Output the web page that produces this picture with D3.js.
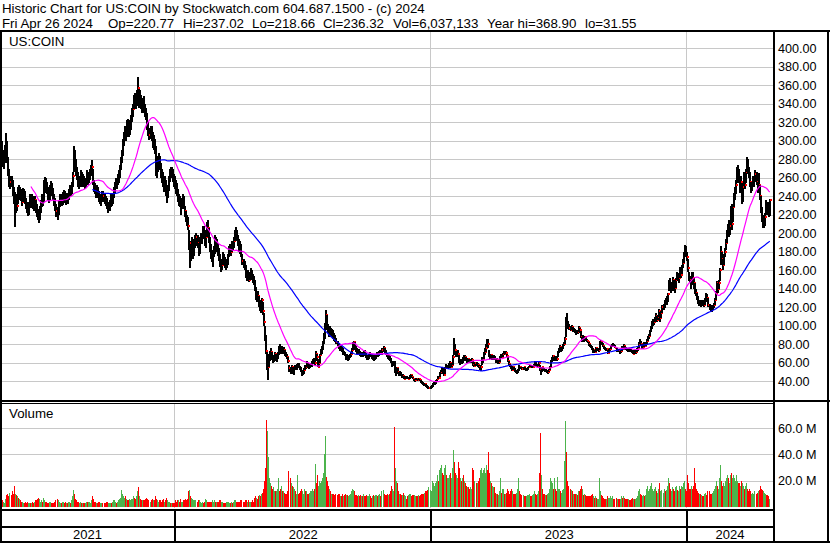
<!DOCTYPE html>
<html><head><meta charset="utf-8">
<script src="https://cdn.jsdelivr.net/npm/d3@7"></script>
<style>
body{margin:0;background:#fff}
svg{display:block}
text{font-family:"Liberation Sans",Arial,sans-serif;fill:#000}
</style></head>
<body><svg id="c" width="830" height="543"></svg>
<script>
// ---------------- DATA (daily, first bar = 2021-04-30) ----------------
const headerTitle = "Historic Chart for US:COIN by Stockwatch.com 604.687.1500 - (c) 2024";
const headerFields = ["Fri Apr 26 2024","Op=220.77","Hi=237.02","Lo=218.66","Cl=236.32","Vol=6,037,133","Year hi=368.90","lo=31.55"];
const symbolLabel = "US:COIN";
const volumeLabel = "Volume";
const yearLabels = ["2021","2022","2023","2024"];
const yearStartIdx = [0,171,422,672];
const priceTicks = [40,60,80,100,120,140,160,180,200,220,240,260,280,300,320,340,360,380,400];
const volumeTicks = [20,40,60];
const maShort = 30, maLong = 90;

const closes = [
294,
287,276,282,290,298,280,268,255,256,254,245,236,226,236,230,246,240,246,238,234,
240,244,236,230,228,224,229,236,234,238,232,230,236,228,222,218,216,224,232,238,236,253,
256,250,248,240,238,246,250,246,240,234,230,224,221,232,236,238,234,240,244,238,236,
240,238,245,248,246,252,262,282,276,270,262,256,252,258,262,256,260,255,252,256,262,256,
262,266,270,272,256,250,246,244,248,242,240,236,238,242,240,236,234,230,226,228,232,
238,235,240,245,252,256,254,258,262,270,278,286,298,305,310,306,318,316,312,318,322,
330,334,345,342,340,348,357,342,348,340,336,340,338,332,326,316,310,306,312,308,296,
298,292,276,270,278,282,272,266,262,256,250,256,248,240,248,258,266,264,268,262,256,252,
250,246,236,236,232,230,234,238,228,224,216,212,208,186,190,176,180,182,190,192,
196,190,182,192,194,196,204,200,190,196,208,206,194,184,178,172,178,182,192,
186,188,178,174,168,162,166,176,170,166,164,168,176,182,184,180,188,186,192,200,203,196,190,
188,186,176,170,166,164,156,152,156,150,154,158,154,150,148,140,130,134,132,124,
124,120,128,116,104,88,73,54,55,66,68,72,65,64,66,70,64,66,70,76,75,
72,76,72,74,70,68,66,62,54,52,55,51,53,57,55,56,59,56,53,51,48,
50,52,56,55,58,56,55,57,58,60,62,62,60,70,66,56,60,68,72,76,
82,88,98,112,100,95,92,96,92,94,90,88,86,82,80,77,75,76,74,70,71,68,65,
66,64,66,68,70,74,78,82,76,74,72,70,72,70,68,70,68,72,70,66,64,
66,68,70,68,66,66,64,66,68,70,68,70,72,70,74,76,72,70,68,66,66,
64,61,58,60,60,51,52,54,50,48,49,47,46,46,43,44,45,44,43,44,46,
47,45,43,41,41,43,42,41,42,41,39,38,37,36,37,35,34,33,33,34,35,
37,38,38,40,42,45,44,49,50,53,49,47,54,57,55,55,58,60,55,58,
66,78,74,68,70,70,62,60,62,61,65,64,66,63,62,64,62,61,63,
63,58,57,60,58,58,55,54,56,64,64,70,72,76,82,80,68,66,68,64,65,66,64,
62,63,60,61,66,68,66,70,71,70,71,67,62,59,57,54,52,56,53,
51,50,50,52,56,55,54,53,55,53,52,53,55,56,57,56,55,56,57,60,58,57,
57,60,52,51,55,53,52,51,51,50,50,52,56,62,64,67,63,66,65,64,72,
75,77,74,76,79,80,86,106,104,100,98,96,99,95,96,94,92,94,93,98,
95,88,86,86,85,88,85,84,82,80,78,77,75,74,74,72,76,74,74,74,82,83,80,
78,76,75,74,75,71,74,75,78,78,79,78,76,73,74,73,72,73,77,75,
78,76,75,74,73,75,74,73,72,70,73,72,72,74,76,80,83,80,76,77,80,78,
80,84,87,89,94,98,103,104,104,108,111,106,110,116,108,114,120,120,127,124,128,
134,148,145,140,144,150,142,141,150,156,150,152,162,155,164,168,178,184,178,174,
162,152,150,145,156,152,146,138,136,130,127,124,125,122,126,124,122,128,132,130,122,
120,119,118,121,122,128,136,146,140,146,160,180,172,166,176,180,190,200,206,202,
208,226,210,228,240,244,252,266,268,260,248,256,236,250,262,252,266,278,270,265,
256,250,252,254,258,264,256,248,252,240,226,218,210,214,218,232,228,226,221,236.32
];

const highs = [
305,
300,290,288,296,308,300,282,270,262,262,258,250,245,242,240,250,252,250,248,242,
249,248,246,238,234,233,234,243,240,243,240,238,240,236,232,226,224,230,236,243,242,258,
261,260,256,250,244,252,257,254,249,243,238,232,228,236,242,243,242,245,247,246,242,
244,243,248,252,252,256,266,294,290,280,272,266,262,262,268,266,264,262,258,260,268,266,
266,270,274,279,270,258,254,250,252,250,246,242,242,246,246,244,240,238,234,232,236,
242,240,244,250,256,260,260,264,268,274,282,290,302,310,316,314,322,324,320,322,328,
336,340,350,352,348,355,369,356,355,350,345,346,348,340,336,330,320,314,316,316,310,
306,302,294,280,284,287,284,276,270,266,258,262,258,250,252,262,270,272,272,270,264,262,
258,254,248,242,240,236,238,242,240,230,224,220,218,204,192,188,196,192,194,198,
200,198,190,196,200,200,208,208,204,200,212,214,206,196,188,182,180,186,198,
196,194,190,184,178,170,172,180,178,174,170,172,178,186,188,188,192,192,196,204,207,204,198,
194,192,188,178,172,170,166,158,160,158,158,162,160,156,154,150,142,138,138,132,
128,126,130,126,114,100,90,72,62,70,73,76,72,68,68,72,70,68,72,78,80,
78,78,77,77,74,72,70,66,58,56,58,56,56,58,58,59,60,60,57,55,52,
52,54,58,58,62,60,58,59,60,62,64,65,64,73,70,64,62,70,75,78,
84,92,103,117,112,102,98,100,98,97,95,92,90,87,84,81,80,78,77,76,73,72,69,
69,67,68,70,72,76,82,84,82,78,76,73,75,73,72,72,71,74,74,71,68,
68,70,72,71,69,68,67,68,70,72,72,73,74,73,76,78,76,74,71,69,68,
67,65,62,62,62,62,55,56,54,50,51,50,48,48,46,45,46,46,45,45,47,
48,47,45,43,42,44,44,43,44,43,41,40,39,38,38,37,36,35,34,35,36,
38,39,39,41,43,46,46,50,52,56,54,50,55,59,58,57,60,62,60,59,
68,87,80,73,72,74,68,63,64,63,66,68,68,66,64,65,64,63,64,
65,62,58,61,61,60,58,56,58,66,66,72,76,80,86,86,74,70,70,68,67,68,67,
64,65,63,62,67,70,69,71,73,72,73,70,66,62,59,57,55,57,56,
54,52,52,53,58,57,56,55,56,55,54,54,56,57,58,58,57,58,59,62,61,59,
59,61,58,52,56,55,54,53,53,52,51,53,57,63,66,68,66,67,67,66,73,
76,79,77,77,80,82,88,110,114,105,102,100,101,99,98,97,95,96,96,100,
98,94,88,90,87,89,88,86,84,82,80,79,78,76,75,74,77,76,75,76,84,85,83,
81,78,77,76,76,74,75,76,79,80,81,80,79,76,75,75,73,74,78,78,
80,78,77,76,75,76,76,75,74,73,74,74,73,76,77,82,86,84,80,78,82,81,
82,86,89,91,96,100,105,107,107,110,114,111,112,118,115,116,122,124,128,130,132,
136,150,152,147,146,153,150,145,152,158,157,154,164,164,166,172,180,187,186,180,
172,158,154,150,158,158,152,146,140,136,132,128,128,126,128,128,126,130,136,134,130,
124,122,121,123,125,130,138,148,146,149,162,186,180,172,178,184,194,204,210,214,
212,230,232,232,244,250,258,272,274,270,262,262,252,254,266,264,270,283,280,272,
266,256,256,262,262,268,266,256,265,252,240,228,220,218,222,236,234,234,228,237.02
];

const lows = [
285,
280,272,270,276,285,276,262,250,248,250,240,232,207,222,224,232,236,238,235,230,
234,236,232,226,222,219,220,227,227,230,226,224,227,222,218,214,211,214,222,228,230,234,
246,244,242,236,233,236,242,240,236,230,224,218,214,220,228,230,229,231,234,233,231,
233,232,236,240,240,242,250,266,268,262,258,250,248,250,254,250,252,250,248,250,254,252,
254,258,262,264,252,245,242,238,240,238,234,232,230,234,234,232,230,226,222,224,224,
228,230,232,238,244,248,248,252,254,260,268,276,284,294,300,300,304,308,304,306,312,
320,326,334,336,334,338,345,336,338,334,330,332,330,326,322,312,305,301,302,300,292,
290,286,262,260,266,272,268,260,254,250,245,248,240,233,238,246,256,260,260,256,250,248,
242,240,234,230,228,220,226,230,226,218,212,208,204,182,162,170,174,172,176,184,
186,184,176,178,188,188,194,196,186,184,196,200,190,180,172,169,164,174,178,
182,180,176,170,164,158,160,166,166,162,160,162,166,174,178,176,180,182,184,192,196,192,186,
180,178,174,166,162,160,152,148,150,147,149,150,150,146,144,138,128,126,128,120,
116,114,118,112,100,84,70,52,41,55,62,66,63,60,61,64,62,61,64,68,72,
70,70,70,70,67,66,64,60,50,48,50,48,47,52,52,52,54,54,52,50,46,
47,48,52,53,55,54,53,54,55,56,59,59,58,62,63,55,56,60,68,70,
74,80,86,96,96,92,88,90,88,90,86,84,83,80,78,75,73,73,72,68,68,67,63,
63,62,63,65,66,69,74,77,74,72,70,68,69,67,66,67,66,67,68,65,63,
63,64,66,66,64,63,62,63,64,67,66,67,69,68,69,72,70,68,66,64,63,
62,60,56,57,58,49,46,48,48,46,47,46,44,44,42,42,43,43,42,42,43,
44,44,42,40,39,41,41,40,41,40,38,37,36,35,35,34,33,32,31.55,32,33,
34,36,36,37,40,42,43,45,48,50,48,46,48,54,54,53,54,57,54,55,
58,68,70,66,66,67,60,58,59,59,60,62,63,62,60,61,60,60,60,
61,57,55,57,57,56,54,52,51,58,60,64,68,72,78,76,66,64,64,63,63,64,63,
60,61,59,59,61,65,65,66,69,68,69,66,61,58,56,53,51,52,52,
50,49,48,49,51,54,53,52,52,52,51,51,52,54,55,55,54,54,55,57,57,56,
55,57,51,47,50,52,51,50,50,49,48,50,52,56,61,63,62,62,63,62,66,
71,74,72,73,75,78,80,88,102,97,95,94,95,93,93,92,90,91,91,93,
92,87,83,84,83,84,84,82,81,78,77,76,74,71,72,71,72,73,73,72,74,80,79,
77,75,74,73,73,70,71,73,75,77,77,77,76,72,72,72,70,71,73,74,
76,75,74,73,72,72,73,72,71,69,70,71,70,72,73,76,80,79,75,75,77,77,
78,80,84,86,89,93,97,100,101,104,107,104,106,110,104,108,114,117,119,122,123,
126,138,140,136,138,143,138,136,141,150,148,146,152,152,156,162,168,176,174,170,
158,148,146,140,144,148,140,134,132,128,124,121,122,120,121,122,120,122,127,126,120,
117,116,115,117,119,122,128,136,136,140,148,166,166,160,166,174,182,190,196,196,
198,212,204,212,228,236,242,254,258,254,244,246,232,234,252,248,254,266,264,260,
250,244,246,250,250,256,252,244,246,236,222,212,206,206,208,220,222,220,218,218.66
];

// volume in millions of shares
const volumes = [
6,
4,5,4,3,6,9,10,8,11,9,12,10,16,10,9,8,7,6,5,4,
4,3,3,4,3,4,3,3,3,3,4,3,4,5,5,6,7,6,4,5,4,7,
5,4,4,3,3,4,4,3,3,3,4,5,6,5,4,3,3,4,4,3,4,
3,3,4,4,3,5,8,13,10,6,5,4,4,3,4,3,3,3,3,3,4,4,
4,4,3,5,8,6,4,4,3,3,4,4,3,3,3,3,3,4,4,3,3,
3,3,4,5,5,4,3,4,5,6,7,13,10,8,7,8,6,5,5,6,5,
6,6,8,7,6,8,12,15,8,6,5,5,5,5,6,7,6,5,4,5,6,
5,5,8,6,5,4,5,5,4,5,6,4,5,7,5,4,4,3,3,3,3,3,
5,4,5,5,4,6,4,4,5,5,6,5,6,12,13,8,7,6,5,5,
5,4,5,5,4,3,4,3,4,6,5,4,4,4,4,4,5,4,5,
4,4,4,4,5,5,4,4,3,3,3,4,4,4,3,3,4,3,4,5,5,4,4,
4,4,5,5,4,4,5,5,4,5,4,4,4,5,4,7,8,7,6,8,
9,8,10,11,14,20,30,66,58,38,22,18,16,14,15,12,12,12,14,22,12,
14,16,12,12,11,10,10,12,27,22,18,16,15,14,12,10,24,10,11,12,14,
12,10,14,12,12,10,10,11,12,12,14,12,14,33,18,24,16,20,18,20,
22,26,40,54,23,20,16,14,12,10,10,10,9,10,9,10,10,8,8,10,8,9,10,
9,9,8,9,10,12,14,13,12,9,9,8,9,8,9,8,8,10,8,8,9,
8,8,10,8,7,8,9,8,9,9,8,9,10,8,12,13,10,9,9,10,9,
10,12,16,14,12,61,30,20,18,12,10,10,9,9,11,9,8,6,8,9,10,
10,8,9,9,9,8,8,8,9,8,9,10,10,10,11,12,12,13,15,13,12,
20,18,16,18,20,24,20,28,30,32,26,24,30,32,24,22,22,24,26,22,
30,43,34,26,24,22,34,30,22,20,22,24,20,18,16,15,15,14,15,
14,30,28,20,18,18,20,22,28,30,26,28,30,26,32,28,42,26,20,18,16,15,15,
11,10,10,9,12,22,11,14,14,10,10,11,14,12,10,12,14,12,10,
10,10,11,14,22,12,10,9,9,8,8,8,9,9,10,8,8,9,10,12,10,9,
10,12,26,56,24,14,10,10,9,9,10,11,14,22,20,18,14,22,14,12,23,
14,14,12,11,13,14,35,65,42,20,16,14,13,12,10,10,10,10,9,12,
12,14,16,14,9,10,9,8,8,8,8,8,9,10,8,7,8,7,6,6,22,12,9,
8,7,6,6,6,8,7,7,8,7,8,6,6,7,6,6,6,6,8,7,
8,7,6,6,6,6,5,5,6,7,6,6,6,7,8,12,14,10,9,8,9,8,
9,14,16,12,14,16,18,14,12,14,15,12,11,14,18,12,13,11,14,12,13,
16,22,18,14,12,15,14,12,15,16,13,12,16,14,16,15,18,20,14,12,
24,18,14,14,16,14,16,30,18,14,12,11,10,10,9,8,8,10,11,9,12,
12,10,10,11,12,14,16,20,16,14,22,32,20,16,18,16,20,22,24,22,
18,24,26,22,24,22,20,24,20,18,18,16,20,18,16,14,16,18,14,12,
14,12,10,11,10,12,10,11,12,13,16,14,13,12,11,10,9,9,8,6.04
];

// ---------------- CHART ----------------
const W = 830, H = 543;
const plotL = 2, plotR = 773;
const priceTop = 32, priceBot = 400;
const volTop = 403, volBot = 508;
const n = closes.length;

const svg = d3.select("#c");
svg.append("rect").attr("width", W).attr("height", H).attr("fill", "#fff");

const x = d3.scaleLinear().domain([0, n - 1]).range([0.3, 768.8]);
const y = d3.scaleLinear().domain([40, 400]).range([381.3, 48.3]);
const yv = d3.scaleLinear().domain([0, 60]).range([507, 428]);

const defs = svg.append("defs");
defs.append("clipPath").attr("id", "clipP").append("rect")
  .attr("x", plotL).attr("y", priceTop).attr("width", plotR - plotL).attr("height", priceBot - priceTop);
defs.append("clipPath").attr("id", "clipV").append("rect")
  .attr("x", plotL).attr("y", volTop).attr("width", plotR - plotL).attr("height", volBot - volTop);

const gridColor = "#c8c8c8";
const grid = svg.append("g").attr("shape-rendering", "crispEdges");
priceTicks.forEach(t => {
  const yy = Math.round(y(t)) + 0.5;
  grid.append("line").attr("x1", plotL).attr("x2", plotR).attr("y1", yy).attr("y2", yy)
    .attr("stroke", gridColor);
});
volumeTicks.forEach(t => {
  const yy = Math.round(yv(t)) + 0.5;
  grid.append("line").attr("x1", plotL).attr("x2", plotR).attr("y1", yy).attr("y2", yy)
    .attr("stroke", gridColor);
});
const yearX = yearStartIdx.slice(1).map(i => Math.floor(x(i)) - 0.5);
yearX.forEach(xx => {
  grid.append("line").attr("x1", xx).attr("x2", xx).attr("y1", priceTop).attr("y2", priceBot)
    .attr("stroke", gridColor);
  grid.append("line").attr("x1", xx).attr("x2", xx).attr("y1", volTop).attr("y2", volBot)
    .attr("stroke", gridColor);
});

// candles (black high-low bar + red close tick)
const gc = svg.append("g").attr("clip-path", "url(#clipP)").attr("shape-rendering", "crispEdges");
const days = d3.range(n);
const dayG = gc.selectAll("g").data(days).join("g");
dayG.append("rect")
  .attr("x", i => Math.round(x(i)))
  .attr("y", i => Math.round(y(highs[i])))
  .attr("width", 2)
  .attr("height", i => Math.max(1, Math.round(y(lows[i])) - Math.round(y(highs[i]))))
  .attr("fill", "#000");
dayG.append("rect")
  .attr("x", i => Math.round(x(i)) + 1)
  .attr("y", i => Math.round(y(closes[i])) - 1)
  .attr("width", 2).attr("height", 2)
  .attr("fill", "#ff0000");

// moving averages
function sma(arr, p) {
  return arr.map((v, i) => i < p - 1 ? null : d3.mean(arr.slice(i - p + 1, i + 1)));
}
const maS = sma(closes, maShort), maL = sma(closes, maLong);
const line = d3.line().defined(d => d[1] != null).x(d => x(d[0]) + 1).y(d => y(d[1]));
const gm = svg.append("g").attr("clip-path", "url(#clipP)");
gm.append("path").attr("d", line(maL.map((v, i) => [i, v]))).attr("fill", "none")
  .attr("stroke", "#0000ff").attr("stroke-width", 1.2);
gm.append("path").attr("d", line(maS.map((v, i) => [i, v]))).attr("fill", "none")
  .attr("stroke", "#ff00ff").attr("stroke-width", 1.2);

// volume bars
const gv = svg.append("g").attr("clip-path", "url(#clipV)").attr("shape-rendering", "crispEdges");
gv.selectAll("rect").data(days).join("rect")
  .attr("x", i => Math.round(x(i)))
  .attr("y", i => yv(volumes[i]))
  .attr("width", 1)
  .attr("height", i => yv(0) - yv(volumes[i]))
  .attr("fill", i => (i > 0 && closes[i] < closes[i - 1]) ? "#ff0000" : "#4cb44c");

// frame lines
const fr = svg.append("g").attr("shape-rendering", "crispEdges").attr("fill", "#000");
fr.append("rect").attr("x", 0).attr("y", 30).attr("width", W).attr("height", 2);        // under header
fr.append("rect").attr("x", 0).attr("y", 30).attr("width", 2).attr("height", H - 30);   // left
fr.append("rect").attr("x", 773).attr("y", 30).attr("width", 2).attr("height", H - 30); // axis
fr.append("rect").attr("x", 827).attr("y", 30).attr("width", 2).attr("height", H - 30); // right
fr.append("rect").attr("x", 0).attr("y", 400).attr("width", W).attr("height", 2);       // price/vol
fr.append("rect").attr("x", 0).attr("y", 403).attr("width", 773).attr("height", 1);
fr.append("rect").attr("x", 0).attr("y", 509).attr("width", 773).attr("height", 2);     // vol bottom
fr.append("rect").attr("x", 0).attr("y", 526).attr("width", 773).attr("height", 2);
fr.append("rect").attr("x", 0).attr("y", 541).attr("width", W).attr("height", 2);       // bottom
yearX.forEach(xx => {
  fr.append("rect").attr("x", Math.floor(xx)).attr("y", 511).attr("width", 1.5).attr("height", 30);
});

// axis labels
const fmtP = d3.format(".2f");
const ax = svg.append("g").style("font-size", "12.6px");
priceTicks.forEach(t => {
  ax.append("text").attr("x", 778).attr("y", y(t)).attr("dy", "0.36em").text(fmtP(t));
});
volumeTicks.forEach(t => {
  ax.append("text").attr("x", 778).attr("y", yv(t)).attr("dy", "0.36em").text(t.toFixed(1) + " M");
});
const yb = [0].concat(yearStartIdx.slice(1).map(i => x(i))).concat([plotR]);
yearLabels.forEach((lab, k) => {
  svg.append("text").attr("x", (yb[k] + yb[k + 1]) / 2).attr("y", 539)
    .attr("text-anchor", "middle").style("font-size", "13px").text(lab);
});

// header + panel titles
const hdr = svg.append("g").style("font-size", "13.3px").style("white-space", "pre");
hdr.append("text").attr("x", 2).attr("y", 13).text(headerTitle);
const hx = [2, 108, 183, 252, 323, 393, 487, 585];
headerFields.forEach((f, k) => hdr.append("text").attr("x", hx[k]).attr("y", 27.5).text(f));
svg.append("text").attr("x", 9).attr("y", 46).style("font-size", "13.3px").text(symbolLabel);
svg.append("text").attr("x", 9).attr("y", 417.5).style("font-size", "13.3px").text(volumeLabel);
</script>
</body></html>
